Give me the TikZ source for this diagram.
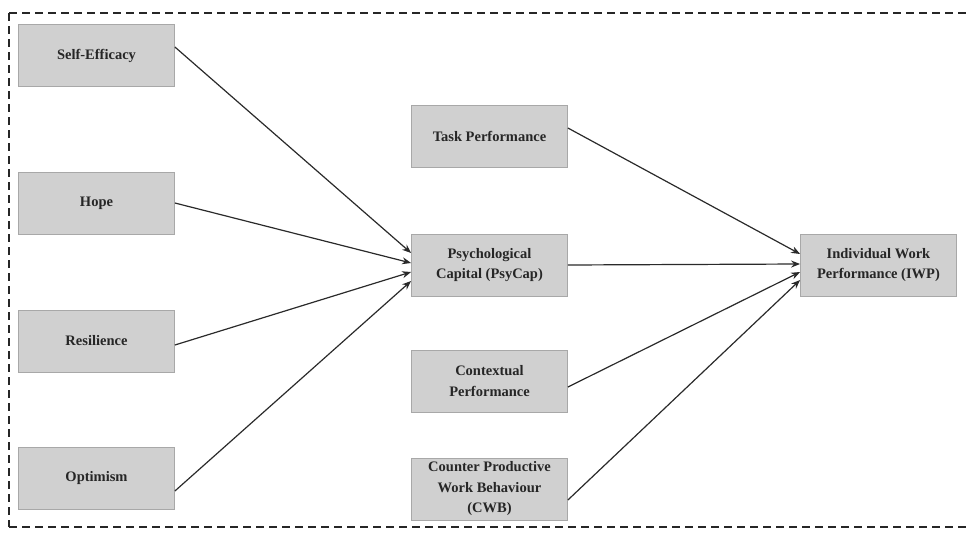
\documentclass[tikz,border=0pt]{standalone}
\usepackage{fontspec}
\setmainfont{Liberation Serif}
\usetikzlibrary{arrows.meta}
\definecolor{boxfill}{HTML}{D0D0D0}
\definecolor{boxline}{HTML}{A8A8A8}
\definecolor{arrline}{HTML}{2A2A2A}
\tikzset{
  factor/.style={draw=boxline, fill=boxfill, line width=0.8pt, minimum width=156pt, minimum height=62pt,
    inner sep=0pt, align=center, font=\fontsize{14.5}{20.5}\selectfont\bfseries, text=black!85},
  link/.style={draw=arrline, line width=1.2pt, -{Stealth[length=9pt,width=7pt]}},
  border/.style={draw=black!85, line width=2pt, dash pattern=on 8pt off 5pt}
}
\begin{document}
\begin{tikzpicture}[x=1pt,y=-1pt]
\useasboundingbox (0,0) rectangle (970,533);
\begin{scope}
\clip (0,0) rectangle (970,533);
\draw[border] (9,13) -- (985,13) (9,527) -- (985,527) (9,13) -- (9,527);
\end{scope}
% left column
\node[factor] (se) at (96.5,55.5) {Self-Efficacy};
\node[factor] (ho) at (96.5,203) {Hope};
\node[factor] (re) at (96.5,341) {Resilience};
\node[factor] (op) at (96.5,478) {Optimism};
% middle column
\node[factor] (tp) at (489.5,136) {Task Performance};
\node[factor] (pc) at (489.5,265) {Psychological\\Capital (PsyCap)};
\node[factor] (cp) at (489.5,381) {Contextual\\Performance};
\node[factor] (cw) at (489.5,489) {Counter Productive\\Work Behaviour\\(CWB)};
% right
\node[factor] (iw) at (878.5,265) {Individual Work\\Performance (IWP)};
% attachment points
\coordinate (se1) at (se.east |- 0,47);
\coordinate (ho1) at (ho.east |- 0,203);
\coordinate (re1) at (re.east |- 0,345);
\coordinate (op1) at (op.east |- 0,491);
\coordinate (pa) at (pc.west |- 0,253);
\coordinate (pb) at (pc.west |- 0,263);
\coordinate (pcc) at (pc.west |- 0,272);
\coordinate (pd) at (pc.west |- 0,281);
\coordinate (tp1) at (tp.east |- 0,128);
\coordinate (pc1) at (pc.east |- 0,265);
\coordinate (cp1) at (cp.east |- 0,387);
\coordinate (cw1) at (cw.east |- 0,500);
\coordinate (ia) at (iw.west |- 0,254);
\coordinate (ib) at (iw.west |- 0,264);
\coordinate (ic) at (iw.west |- 0,272);
\coordinate (id) at (iw.west |- 0,280);
\draw[link] (se1) -- (pa);
\draw[link] (ho1) -- (pb);
\draw[link] (re1) -- (pcc);
\draw[link] (op1) -- (pd);
\draw[link] (tp1) -- (ia);
\draw[link] (pc1) -- (ib);
\draw[link] (cp1) -- (ic);
\draw[link] (cw1) -- (id);
\end{tikzpicture}
\end{document}
